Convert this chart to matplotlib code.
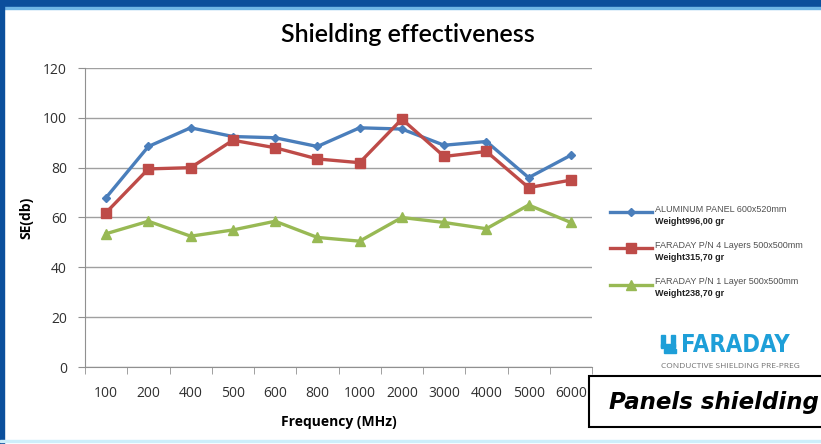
import matplotlib
matplotlib.use("Agg")
import matplotlib.pyplot as plt
from matplotlib.patches import Rectangle
from matplotlib.lines import Line2D

# Measured shielding effectiveness per frequency
frequencies = ["100", "200", "400", "500", "600", "800", "1000", "2000",
               "3000", "4000", "5000", "6000"]
aluminum_se = [68, 88.5, 96, 92.5, 92, 88.5, 96, 95.5, 89, 90.5, 76, 85]
faraday4_se = [62, 79.5, 80, 91, 88, 83.5, 82, 99.5, 84.5, 86.5, 72, 75]
faraday1_se = [53.5, 58.5, 52.5, 55, 58.5, 52, 50.5, 60, 58, 55.5, 65, 58]

series_names = ["ALUMINUM PANEL 600x520mm",
                "FARADAY P/N 4 Layers 500x500mm",
                "FARADAY P/N 1 Layer 500x500mm"]
series_weights = ["Weight996,00 gr", "Weight315,70 gr", "Weight238,70 gr"]
y_ticks = [0, 20, 40, 60, 80, 100, 120]

plt.rcParams['font.family'] = ['Open Sans', 'DejaVu Sans']

fig = plt.figure(figsize=(8.21, 4.44), dpi=100)
fig.patch.set_facecolor("white")

# Page frame
fig.patches.append(Rectangle((0, 1 - 7/444), 1, 7/444, transform=fig.transFigure,
                             color="#0b4f9c", zorder=0))
fig.patches.append(Rectangle((0, 1 - 9/444), 1, 2/444, transform=fig.transFigure,
                             color="#6fb6e6", zorder=0))
fig.patches.append(Rectangle((0, 0), 4/821, 1, transform=fig.transFigure,
                             color="#0b4f9c", zorder=0))
fig.patches.append(Rectangle((0, 2/444), 1, 2/444, transform=fig.transFigure,
                             color="#cdeefa", zorder=0))

ax = fig.add_axes([85/821, 77/444, 507/821, 299/444])
x = list(range(len(frequencies)))

colors = ["#4a7ebb", "#be4b48", "#98b954"]
markers = ["D", "s", "^"]
msizes = [4, 6.5, 6.5]
for vals, c, m, ms in zip([aluminum_se, faraday4_se, faraday1_se], colors, markers, msizes):
    ax.plot(x, vals, color=c, lw=2.4, marker=m, ms=ms, mec=c, mfc=c, zorder=3)

ax.set_xlim(-0.5, len(frequencies) - 0.5)
ax.set_ylim(0, 120)
ax.set_yticks(y_ticks)
ax.set_yticklabels([str(v) for v in y_ticks], fontsize=10, color="#303030")
ax.set_xticks(x)
ax.set_xticklabels(frequencies, fontsize=10, color="#303030")
ax.tick_params(axis="x", length=0, pad=14)
ax.set_xticks([i - 0.5 for i in range(len(frequencies) + 1)], minor=True)
ax.tick_params(axis="x", which="minor", length=5, color="#909090", direction="out")
ax.tick_params(axis="y", length=5, color="#909090", direction="out", pad=8)

ax.grid(axis="y", color="#a0a0a0", lw=1)
ax.set_axisbelow(True)
for s in ["top", "right"]:
    ax.spines[s].set_visible(False)
ax.spines["left"].set_color("#909090")
ax.spines["bottom"].set_color("#909090")

ax.set_ylabel("SE(db)", fontsize=10, fontweight="bold")
ax.yaxis.set_label_coords(-0.1026, 0.50)
ax.set_xlabel("Frequency (MHz)", fontsize=10, fontweight="bold", labelpad=10)

fig.text(408/821, 1 - 34/444, "Shielding effectiveness", ha="center", va="center",
         fontsize=18, family="Lato", fontweight="semibold")

# Legend
leg_y = [212, 248, 285]
for c, m, ms, name, w, yy in zip(colors, markers, msizes, series_names, series_weights, leg_y):
    fy = 1 - yy/444
    fig.add_artist(Line2D([610/821, 652/821], [fy, fy], transform=fig.transFigure,
                          color=c, lw=2.4))
    fig.add_artist(Line2D([631/821], [fy], transform=fig.transFigure, color=c,
                          marker=m, ms=ms, mec=c, mfc=c))
    fig.text(655/821, 1 - (yy - 3)/444, name, fontsize=6.5, color="#505050",
             ha="left", va="center", family="Liberation Sans")
    fig.text(655/821, 1 - (yy + 9)/444, w, fontsize=6.5, color="#202020",
             fontweight="bold", ha="left", va="center", family="Liberation Sans")

# Logo
logo_c = "#1e9fd8"
fig.text(681/821, 1 - 345/444, "FARADAY", fontsize=17, fontweight="heavy",
         color=logo_c, ha="left", va="center", family="DejaVu Sans",
         fontstretch="condensed")
for (lx, ly, lw_, lh) in [(661, 335, 4, 12), (661, 344, 14, 4), (671, 335, 4, 12),
                          (664, 349, 12, 4)]:
    fig.patches.append(Rectangle((lx/821, 1 - (ly + lh)/444), lw_/821, lh/444,
                                 transform=fig.transFigure, color=logo_c))
fig.text(730/821, 1 - 366/444, "CONDUCTIVE SHIELDING PRE-PREG", fontsize=6,
         color="#707070", ha="center", va="center")

# Caption box
fig.patches.append(Rectangle((589/821, 1 - 427/444), 240/821, 51/444,
                             transform=fig.transFigure, facecolor="white",
                             edgecolor="black", lw=1.5, zorder=5))
fig.text(609/821, 1 - 402/444, "Panels shielding", fontsize=16.5, fontweight="bold",
         fontstyle="italic", family="DejaVu Sans", ha="left", va="center", zorder=6)

fig.savefig("out.png", dpi=100)
